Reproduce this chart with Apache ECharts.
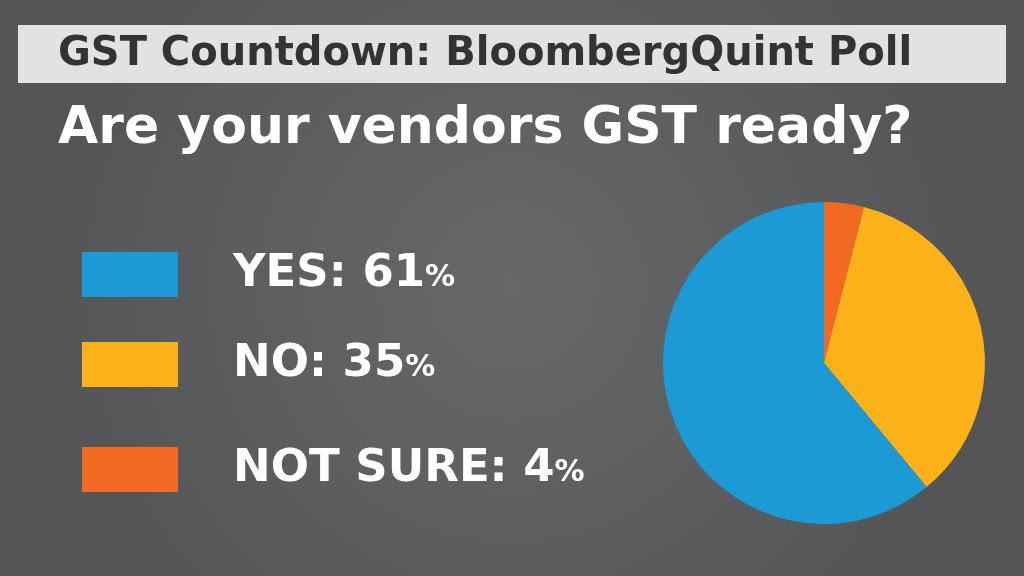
<!DOCTYPE html>
<html><head><meta charset="utf-8">
<script src="https://cdn.jsdelivr.net/npm/echarts@6/dist/echarts.min.js"></script>
<style>html,body{margin:0;padding:0;background:#5e6062;}#c{width:1024px;height:576px;}</style>
</head><body><div id="c"></div>
<script>
const categories = ['YES', 'NO', 'NOT SURE'];
const values = [61, 35, 4];
const colors = ['#1b9ad6', '#fbb118', '#f26a21'];
const legendTops = [247, 337, 442];

const chart = echarts.init(document.getElementById('c'));
const F = '"DejaVu Sans", sans-serif';
chart.setOption({
  backgroundColor: {
    type: 'radial', x: 0.5, y: 0.5, r: 0.8,
    colorStops: [{offset: 0, color: '#66686a'}, {offset: 1, color: '#535557'}]
  },
  graphic: [
    {type: 'rect', shape: {x: 18, y: 25, width: 988, height: 58}, style: {fill: '#e2e2e2'}},
    {type: 'text', left: 58, top: 35, style: {text: 'GST Countdown: BloombergQuint Poll', fill: '#333333', font: 'bold 40px ' + F, letterSpacing: 0.8}},
    {type: 'text', left: 58, top: 103, style: {text: 'Are your vendors GST ready?', fill: '#ffffff', font: 'bold 52px ' + F, letterSpacing: 0.5}}
  ],
  legend: categories.map((c, i) => ({
    data: [c], orient: 'vertical', left: 77, top: legendTops[i],
    itemWidth: 96, itemHeight: 45, icon: 'rect', itemGap: 0,
    formatter: n => '{a|' + n + ': ' + values[categories.indexOf(n)] + '}{b|%}',
    textStyle: {
      padding: [0, 0, 0, 50],
      rich: {
        a: {fontSize: 45, fontWeight: 'bold', color: '#ffffff', fontFamily: F},
        b: {fontSize: 30, fontWeight: 'bold', color: '#ffffff', fontFamily: F, padding: [8, 0, 0, 0]}
      }
    }
  })),
  series: [{
    type: 'pie', center: [824, 363], radius: 161, startAngle: 90, clockwise: true,
    label: {show: false}, labelLine: {show: false}, silent: true,
    data: [2, 1, 0].map(i => ({name: categories[i], value: values[i], itemStyle: {color: colors[i]}}))
  }],
  color: colors
});
</script></body></html>
